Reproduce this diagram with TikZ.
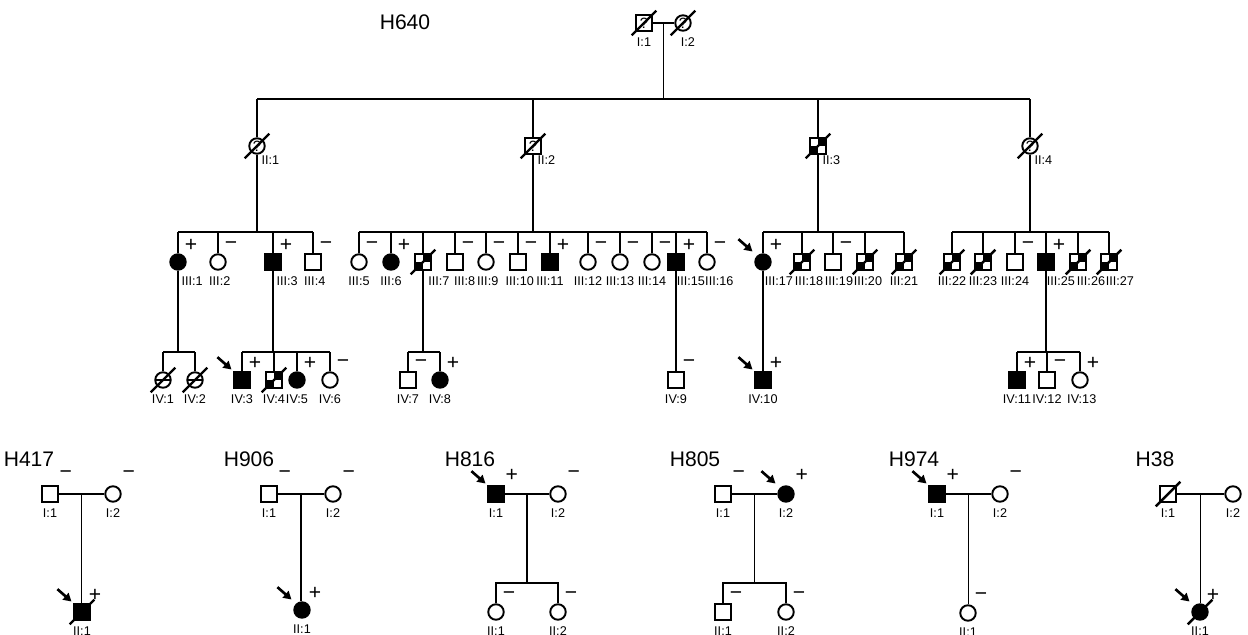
\documentclass[tikz,border=0pt]{standalone}
\usepackage{fontspec}
\setmainfont{Liberation Sans}
\usetikzlibrary{positioning, arrows.meta, calc}

\tikzset{
  pedline/.style={line width=0.8pt},
  indiv/.style={draw, line width=1.1pt, minimum size=0.31cm, inner sep=0pt,
    fill=white, font=\fontsize{8.5}{8.5}\selectfont},
  male/.style={indiv, rectangle},
  female/.style={indiv, circle},
  aff/.style={fill=black},
  checker/.style={path picture={
      \fill[black] (path picture bounding box.north) rectangle (path picture bounding box.east);
      \fill[black] (path picture bounding box.west) rectangle (path picture bounding box.south);}},
  hbar/.style={path picture={
      \draw[line width=1.1pt] (path picture bounding box.west) -- (path picture bounding box.east);}},
  idlabel/.style={font=\fontsize{7.2}{8}\selectfont, inner sep=0pt},
  signmark/.style={font=\fontsize{12}{12}\selectfont, inner sep=0pt},
  famtitle/.style={font=\fontsize{12}{13}\selectfont, inner sep=0pt},
  slashline/.style={line width=1.4pt},
  probarrow/.style={line width=1.5pt, -{Triangle[length=4.5pt,width=5pt]}},
}

\begin{document}
\begin{tikzpicture}[x=0.02cm, y=-0.02cm]
\useasboundingbox (0,0) rectangle (1248,635);

% Family H640
\node[famtitle] (t640) at (405,22) {H640};

% generation I
\node[male] (I1) at (644,23) {?};
\node[female] (I2) at (683,23) {?};

% generation II
\node[female] (II1) at (257,146) {?};
\node[male] (II2) at (533,146) {?};
\node[male,checker] (II3) at (818,146) {};
\node[female] (II4) at (1030,146) {?};

% generation III
\node[female,aff] (III1) at (178,262) {};
\node[female] (III2) at (218,262) {};
\node[male,aff] (III3) at (273,262) {};
\node[male] (III4) at (313,262) {};
\node[female] (III5) at (359,262) {};
\node[female,aff] (III6) at (391,262) {};
\node[male,checker] (III7) at (423,262) {};
\node[male] (III8) at (455,262) {};
\node[female] (III9) at (486,262) {};
\node[male] (III10) at (518,262) {};
\node[male,aff] (III11) at (550,262) {};
\node[female] (III12) at (588,262) {};
\node[female] (III13) at (620,262) {};
\node[female] (III14) at (652,262) {};
\node[male,aff] (III15) at (676,262) {};
\node[female] (III16) at (707,262) {};
\node[female,aff] (III17) at (763,262) {};
\node[male,checker] (III18) at (802,262) {};
\node[male] (III19) at (833,262) {};
\node[male,checker] (III20) at (865,262) {};
\node[male,checker] (III21) at (904,262) {};
\node[male,checker] (III22) at (952,262) {};
\node[male,checker] (III23) at (983,262) {};
\node[male] (III24) at (1015,262) {};
\node[male,aff] (III25) at (1046,262) {};
\node[male,checker] (III26) at (1078,262) {};
\node[male,checker] (III27) at (1109,262) {};

% generation IV
\node[female,hbar] (IV1) at (163,380) {};
\node[female,hbar] (IV2) at (195,380) {};
\node[male,aff] (IV3) at (242,380) {};
\node[male,checker] (IV4) at (274,380) {};
\node[female,aff] (IV5) at (297,380) {};
\node[female] (IV6) at (330,380) {};
\node[male] (IV7) at (408,380) {};
\node[female,aff] (IV8) at (440,380) {};
\node[male] (IV9) at (676,380) {};
\node[male,aff] (IV10) at (763,380) {};
\node[male,aff] (IV11) at (1017,380) {};
\node[male] (IV12) at (1047,380) {};
\node[female] (IV13) at (1080,380) {};

% small families
\node[famtitle] (t417) at (29,459) {H417};
\node[male] (f417i1) at (50,494) {};
\node[female] (f417i2) at (113,494) {};
\node[male,aff] (f417ii1) at (82,612) {};

\node[famtitle] (t906) at (249,459) {H906};
\node[male] (f906i1) at (269,494) {};
\node[female] (f906i2) at (333,494) {};
\node[female,aff] (f906ii1) at (302,610) {};

\node[famtitle] (t816) at (470,459) {H816};
\node[male,aff] (f816i1) at (496,494) {};
\node[female] (f816i2) at (558,494) {};
\node[female] (f816ii1) at (496,612) {};
\node[female] (f816ii2) at (558,612) {};

\node[famtitle] (t805) at (695,459) {H805};
\node[male] (f805i1) at (723,494) {};
\node[female,aff] (f805i2) at (786,494) {};
\node[male] (f805ii1) at (723,612) {};
\node[female] (f805ii2) at (786,612) {};

\node[famtitle] (t974) at (914,459) {H974};
\node[male,aff] (f974i1) at (937,494) {};
\node[female] (f974i2) at (1000,494) {};
\node[female] (f974ii1) at (968,613) {};

\node[famtitle] (t38) at (1155,459) {H38};
\node[male] (f38i1) at (1168,494) {};
\node[female] (f38i2) at (1233,494) {};
\node[female,aff] (f38ii1) at (1200,612) {};

% sibship levels
\coordinate (sib2) at (0,99);
\coordinate (sib3) at (0,232);
\coordinate (sib4) at (0,352);
\coordinate (sibB) at (0,583);

% Connections H640
\draw[pedline] (I1) -- (I2);
\coordinate (m0) at ($(I1.east)!0.5!(I2.west)$);
\draw[pedline] (m0) -- (m0 |- sib2);
\draw[pedline] (II1.north |- sib2) -- (II4.north |- sib2);
\foreach \n in {II1,II2,II3,II4} {
  \draw[pedline] (\n.north) -- (\n.north |- sib2);
}
\foreach \p/\a/\b in {II1/III1/III4, II2/III5/III16, II3/III17/III21, II4/III22/III27} {
  \draw[pedline] (\p.south) -- (\p.south |- sib3);
  \draw[pedline] (\a.north |- sib3) -- (\b.north |- sib3);
}
\foreach \n in {III1,III2,III3,III4,III5,III6,III7,III8,III9,III10,III11,III12,III13,III14,
    III15,III16,III17,III18,III19,III20,III21,III22,III23,III24,III25,III26,III27} {
  \draw[pedline] (\n.north) -- (\n.north |- sib3);
}
\foreach \p/\a/\b in {III1/IV1/IV2, III3/IV3/IV6, III7/IV7/IV8, III25/IV11/IV13} {
  \draw[pedline] (\p.south) -- (\p.south |- sib4);
  \draw[pedline] (\a.north |- sib4) -- (\b.north |- sib4);
}
\foreach \n in {IV1,IV2,IV3,IV4,IV5,IV6,IV7,IV8,IV11,IV12,IV13} {
  \draw[pedline] (\n.north) -- (\n.north |- sib4);
}
\draw[pedline] (III15) -- (IV9);
\draw[pedline] (III17) -- (IV10);

% Connections small families
\foreach \f in {417,906,816,805,974,38} {
  \draw[pedline] (f\f i1) -- (f\f i2);
  \coordinate (m\f) at ($(f\f i1.east)!0.5!(f\f i2.west)$);
}
\foreach \f in {417,906,974,38} {
  \draw[pedline] (m\f) -- (m\f |- f\f ii1.north);
}
\foreach \f in {816,805} {
  \draw[pedline] (m\f) -- (m\f |- sibB);
  \draw[pedline] (f\f ii1.north) -- (f\f ii1.north |- sibB) -- (f\f ii2.north |- sibB) -- (f\f ii2.north);
}

% deceased
\foreach \n in {I1,I2,II1,II2,II3,II4,III7,III18,III20,III21,III22,III23,III26,III27,
    IV1,IV2,IV4,f417ii1,f38i1,f38ii1} {
  \draw[slashline] ($(\n.center)+(-7pt,-7pt)$) -- ($(\n.center)+(7pt,7pt)$);
}

% probands
\foreach \n in {III17,IV3,IV10,f417ii1,f906ii1,f816i1,f805i2,f974i1,f38ii1} {
  \draw[probarrow] ($(\n.center)+(-14pt,13pt)$) -- ($(\n.center)+(-6pt,6pt)$);
}

% test results
\foreach \n/\s in {III1/+,III2/−,III3/+,III4/−,III5/−,III6/+,III8/−,III9/−,III10/−,III11/+,
    III12/−,III13/−,III14/−,III15/+,III16/−,III17/+,III19/−,III24/−,III25/+,
    IV3/+,IV5/+,IV6/−,IV7/−,IV8/+,IV9/−,IV10/+,IV11/+,IV12/−,IV13/+,
    f417ii1/+,f906ii1/+,f816ii1/−,f816ii2/−,f805ii1/−,f805ii2/−,f974ii1/−,f38ii1/+} {
  \node[signmark] (s\n) at ($(\n.center)+(7.4pt,9.6pt)$) {\s};
}
\foreach \n/\s in {f417i1/−,f417i2/−,f906i1/−,f906i2/−,f816i1/+,f816i2/−,
    f805i1/−,f805i2/+,f974i1/+,f974i2/−} {
  \node[signmark] (s\n) at ($(\n.center)+(9pt,10.8pt)$) {\s};
}

% identifiers
\foreach \n/\t/\dx in {I1/I:1/0pt, I2/I:2/2.8pt,
    III1/III:1/8pt, III2/III:2/1pt, III3/III:3/8pt, III4/III:4/1pt, III5/III:5/0pt,
    III6/III:6/0pt, III7/III:7/9pt, III8/III:8/5.5pt, III9/III:9/1pt, III10/III:10/1pt,
    III11/III:11/0pt, III12/III:12/0pt, III13/III:13/0pt, III14/III:14/0pt,
    III15/III:15/8.5pt, III16/III:16/7pt, III17/III:17/9pt, III18/III:18/4pt,
    III19/III:19/3.4pt, III20/III:20/1.7pt, III21/III:21/0pt, III22/III:22/0pt,
    III23/III:23/0pt, III24/III:24/0pt, III25/III:25/8.5pt, III26/III:26/7.4pt, III27/III:27/6.2pt,
    IV1/IV:1/0pt, IV2/IV:2/0pt, IV3/IV:3/0pt, IV4/IV:4/0pt, IV5/IV:5/0pt, IV6/IV:6/0pt,
    IV7/IV:7/0pt, IV8/IV:8/0pt, IV9/IV:9/0pt, IV10/IV:10/0pt, IV11/IV:11/0pt,
    IV12/IV:12/0pt, IV13/IV:13/1pt,
    f417i1/I:1/0pt, f417i2/I:2/0pt, f417ii1/II:1/0pt,
    f906i1/I:1/0pt, f906i2/I:2/0pt, f906ii1/II:1/0pt,
    f816i1/I:1/0pt, f816i2/I:2/0pt, f816ii1/II:1/0pt, f816ii2/II:2/0pt,
    f805i1/I:1/0pt, f805i2/I:2/0pt, f805ii1/II:1/0pt, f805ii2/II:2/0pt,
    f974i1/I:1/0pt, f974i2/I:2/0pt, f974ii1/II:1/0pt,
    f38i1/I:1/0pt, f38i2/I:2/0pt, f38ii1/II:1/0pt} {
  \node[idlabel] (l\n) at ($(\n.center)+(\dx,-10.8pt)$) {\t};
}
\foreach \n/\t in {II1/II:1, II2/II:2, II3/II:3, II4/II:4} {
  \node[idlabel] (l\n) at ($(\n.center)+(7.6pt,-8pt)$) {\t};
}

\end{tikzpicture}
\end{document}
